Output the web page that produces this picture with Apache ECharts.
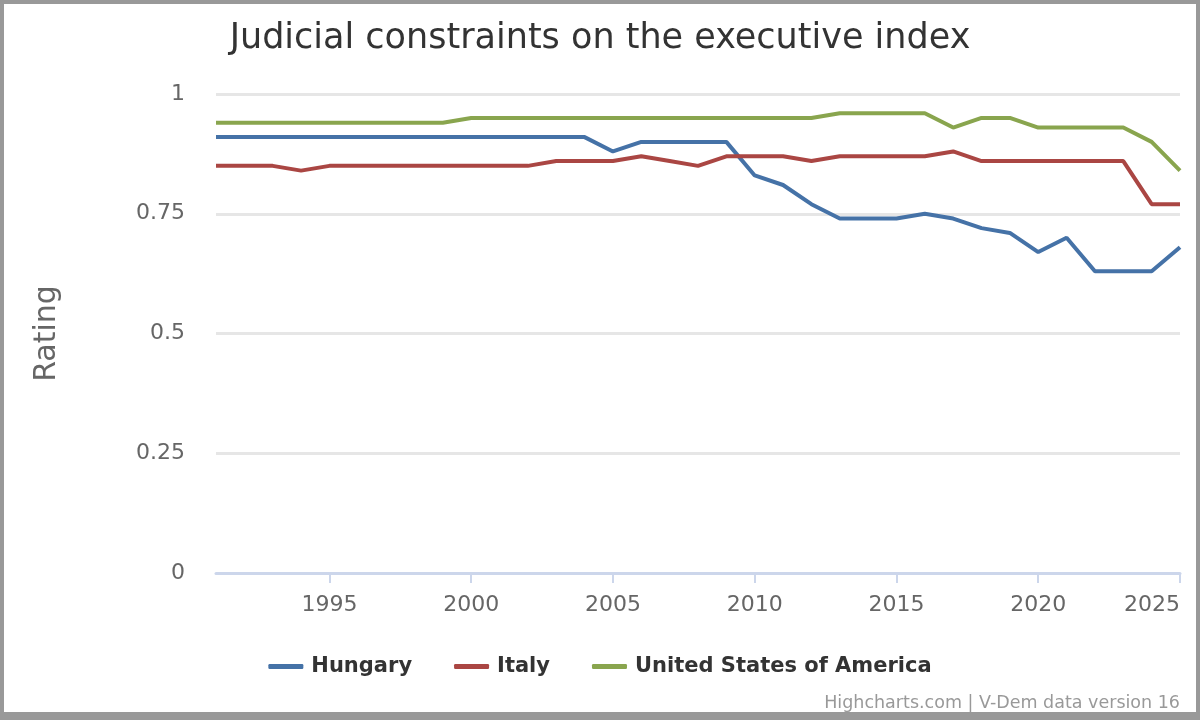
<!DOCTYPE html>
<html>
<head>
<meta charset="utf-8">
<script src="https://cdn.jsdelivr.net/npm/echarts@6/dist/echarts.min.js"></script>
<style>
  html, body { margin: 0; padding: 0; }
  #frame { position: relative; width: 1200px; height: 720px; background: #999999; overflow: hidden; }
  #chart { position: absolute; left: 4px; top: 4px; width: 1192px; height: 708px; background: #ffffff; }
</style>
</head>
<body>
<div id="frame"><div id="chart"></div></div>
<script>
const FONT = "'DejaVu Sans', sans-serif";

const years = [];
for (let y = 1991; y <= 2025; y++) years.push(String(y));

const seriesNames = ["Hungary", "Italy", "United States of America"];

const hungary = [0.91, 0.91, 0.91, 0.91, 0.91, 0.91, 0.91, 0.91, 0.91, 0.91,
                 0.91, 0.91, 0.91, 0.91, 0.88, 0.90, 0.90, 0.90, 0.90, 0.83,
                 0.81, 0.77, 0.74, 0.74, 0.74, 0.75, 0.74, 0.72, 0.71, 0.67,
                 0.70, 0.63, 0.63, 0.63, 0.68];

const italy = [0.85, 0.85, 0.85, 0.84, 0.85, 0.85, 0.85, 0.85, 0.85, 0.85,
               0.85, 0.85, 0.86, 0.86, 0.86, 0.87, 0.86, 0.85, 0.87, 0.87,
               0.87, 0.86, 0.87, 0.87, 0.87, 0.87, 0.88, 0.86, 0.86, 0.86,
               0.86, 0.86, 0.86, 0.77, 0.77];

const usa = [0.94, 0.94, 0.94, 0.94, 0.94, 0.94, 0.94, 0.94, 0.94, 0.95,
             0.95, 0.95, 0.95, 0.95, 0.95, 0.95, 0.95, 0.95, 0.95, 0.95,
             0.95, 0.95, 0.96, 0.96, 0.96, 0.96, 0.93, 0.95, 0.95, 0.93,
             0.93, 0.93, 0.93, 0.90, 0.84];

const colors = ["#4572A7", "#AA4643", "#89A54E"];
const values = [hungary, italy, usa];

const chart = echarts.init(document.getElementById('chart'));
const fiveYear = (i, v) => (+v) % 5 === 0;

chart.setOption({
  animation: false,
  color: colors,
  textStyle: { fontFamily: FONT },
  title: {
    text: "Judicial constraints on the executive index",
    left: 'center',
    top: 12,
    textStyle: { fontFamily: FONT, fontSize: 35, fontWeight: 'normal', color: '#333333' }
  },
  legend: {
    bottom: 30,
    left: 'center',
    itemGap: 42,
    itemWidth: 35,
    itemHeight: 5,
    icon: 'roundRect',
    textStyle: { fontFamily: FONT, fontSize: 21, fontWeight: 'bold', color: '#333333', padding: [0, 0, 0, 3] },
    data: seriesNames
  },
  grid: { left: 212, right: 16, top: 90, height: 479, containLabel: false },
  xAxis: {
    type: 'category',
    data: years,
    boundaryGap: false,
    axisLine: { lineStyle: { color: '#ccd6eb', width: 3 } },
    axisTick: { show: true, interval: fiveYear, length: 10, lineStyle: { color: '#ccd6eb', width: 2 } },
    axisLabel: { interval: fiveYear, margin: 21, fontFamily: FONT, fontSize: 22, color: '#666666', alignMaxLabel: 'right' },
    splitLine: { show: false }
  },
  yAxis: {
    type: 'value',
    min: 0,
    max: 1,
    interval: 0.25,
    name: 'Rating',
    nameLocation: 'middle',
    nameGap: 154,
    nameRotate: 90,
    nameTextStyle: { fontFamily: FONT, fontSize: 30, color: '#666666' },
    axisLine: { show: false },
    axisTick: { show: false },
    axisLabel: { margin: 31, fontFamily: FONT, fontSize: 22, color: '#666666' },
    splitLine: { lineStyle: { color: '#e6e6e6', width: 3 } }
  },
  graphic: [{
    type: 'text',
    right: 16,
    top: 690,
    style: { text: 'Highcharts.com | V-Dem data version 16', fontFamily: FONT, fontSize: 17.5, fill: '#999999' }
  }],
  series: seriesNames.map((name, k) => ({
    name: name,
    type: 'line',
    data: values[k],
    showSymbol: false,
    symbol: 'none',
    lineStyle: { width: 4, color: colors[k] },
    itemStyle: { color: colors[k] },
    emphasis: { disabled: true }
  }))
});
</script>
</body>
</html>
